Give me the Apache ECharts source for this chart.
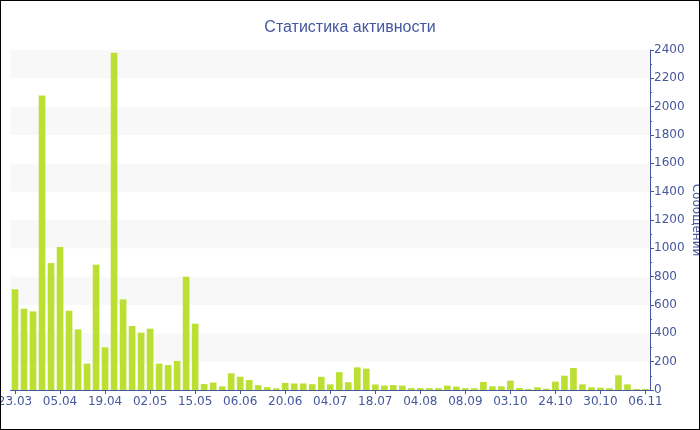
<!DOCTYPE html>
<html>
<head>
<meta charset="utf-8">
<script src="https://cdn.jsdelivr.net/npm/echarts@6/dist/echarts.min.js"></script>
<style>
html,body{margin:0;padding:0;background:#fff;}
#wrap{width:698px;height:428px;border:1px solid #000;}
#chart{width:698px;height:428px;}
</style>
</head>
<body>
<div id="wrap"><div id="chart"></div></div>
<script>
const categories = [
  '23.03','26.03','28.03','31.03','02.04','05.04',
  '08.04','10.04','13.04','16.04','19.04',
  '21.04','24.04','27.04','29.04','02.05',
  '04.05','07.05','10.05','12.05','15.05',
  '19.05','24.05','28.05','02.06','06.06',
  '09.06','11.06','14.06','17.06','20.06',
  '23.06','26.06','28.06','01.07','04.07',
  '07.07','09.07','12.07','15.07','18.07',
  '21.07','25.07','28.07','01.08','04.08',
  '12.08','19.08','26.08','01.09','08.09',
  '13.09','18.09','23.09','28.09','03.10',
  '07.10','11.10','15.10','20.10','24.10',
  '25.10','26.10','27.10','29.10','30.10',
  '31.10','01.11','03.11','05.11','06.11'
];
const messages = [
  711, 574, 555, 2078, 896, 1009,
  560, 428, 186, 885, 301,
  2381, 640, 452, 405, 433,
  186, 176, 205, 800, 468,
  42, 52, 26, 118, 94,
  70, 34, 20, 12, 50,
  46, 46, 41, 93, 40,
  126, 55, 160, 151, 39,
  31, 35, 31, 13, 13,
  13, 13, 31, 24, 13,
  12, 57, 26, 26, 66,
  14, 7, 19, 9, 59,
  101, 155, 40, 19, 16,
  12, 104, 40, 7, 7
];
const titleText = 'Статистика активности';
const yAxisName = 'Сообщений';

const blue = '#45579d';
const chart = echarts.init(document.getElementById('chart'));
chart.setOption({
  animation: false,
  textStyle: { fontFamily: 'DejaVu Sans' },
  title: {
    text: titleText,
    left: 'center',
    top: 14,
    textStyle: { color: blue, fontSize: 16, fontWeight: 'normal', fontFamily: 'Liberation Sans' }
  },
  grid: { left: 9.5, right: 49, top: 49, bottom: 39, containLabel: false, outerBoundsMode: 'none' },
  xAxis: {
    type: 'category',
    data: categories,
    boundaryGap: true,
    axisLine: { lineStyle: { color: blue, width: 1 } },
    axisTick: { show: true, interval: 4, alignWithLabel: true, length: 4, lineStyle: { color: blue } },
    axisLabel: { interval: 4, color: blue, fontSize: 12, margin: 6, fontFamily: 'DejaVu Sans' },
    splitLine: { show: false }
  },
  yAxis: {
    type: 'value',
    position: 'right',
    min: 0,
    max: 2400,
    interval: 200,
    name: yAxisName,
    nameLocation: 'middle',
    nameRotate: -90,
    nameGap: 40,
    nameMoveOverlap: false,
    nameTextStyle: { color: blue, fontSize: 12, fontFamily: 'DejaVu Sans' },
    axisLine: { show: true, lineStyle: { color: blue, width: 1 } },
    axisTick: { show: true, length: 4, lineStyle: { color: blue } },
    minorTick: { show: true, splitNumber: 2, length: 2, lineStyle: { color: blue } },
    axisLabel: { color: blue, fontSize: 12, margin: 4, fontFamily: 'DejaVu Sans', formatter: function (v) { return String(v); } },
    splitLine: { show: false },
    splitArea: { show: true, areaStyle: { color: ['#ffffff', '#f8f8f8'] } }
  },
  series: [{
    type: 'bar',
    data: messages,
    barCategoryGap: '26%',
    itemStyle: { color: '#bbe033' }
  }]
});
</script>
</body>
</html>
